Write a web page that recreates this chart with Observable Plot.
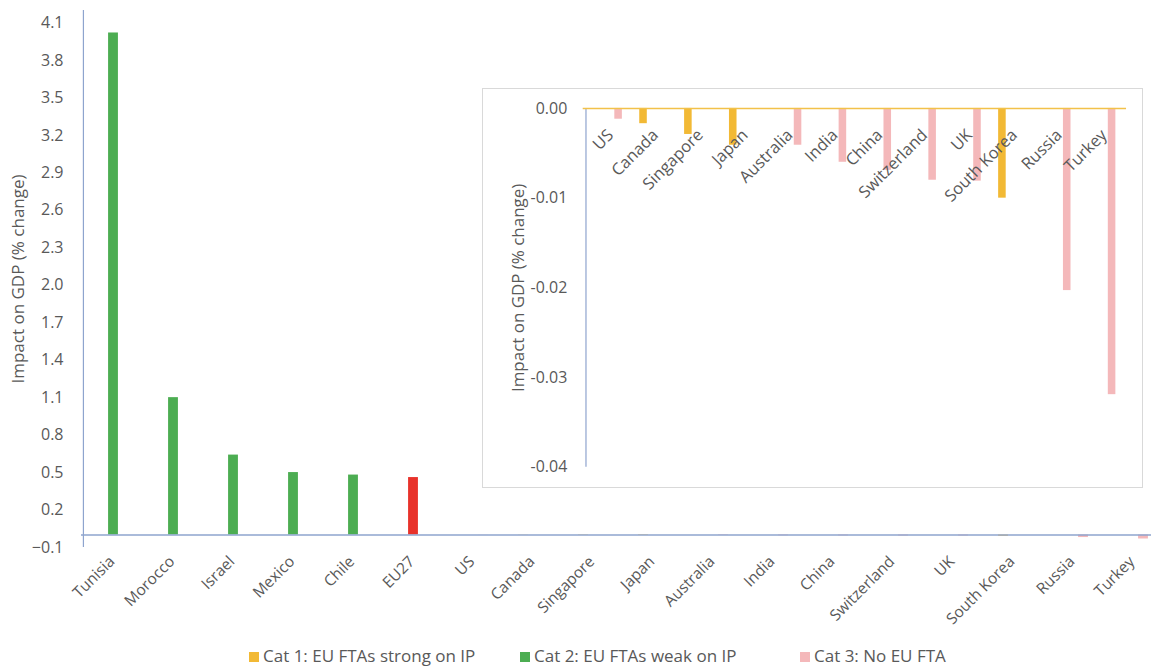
<!DOCTYPE html>
<html>
<head>
<meta charset="utf-8">
<script src="https://cdn.jsdelivr.net/npm/d3@7"></script>
<script src="https://cdn.jsdelivr.net/npm/@observablehq/plot@0.6"></script>
<style>
  html, body { margin: 0; padding: 0; background: #fff; }
  #wrap { position: relative; width: 1151px; height: 668px; font-family: "Open Sans", sans-serif; color: #595959; overflow: hidden; }
  #main { position: absolute; left: 0; top: 0; }
  #inset { position: absolute; left: 482px; top: 88px; width: 661px; height: 400px; box-sizing: border-box; border: 1px solid #D9D9D9; background: #fff; }
  #inset svg { position: absolute; left: -1px; top: -1px; }
  #legend { position: absolute; top: 644px; left: 0; width: 1151px; height: 24px; }
  .li { position: absolute; top: 0; font-size: 17px; line-height: 24px; white-space: nowrap; }
  .sw { display: inline-block; width: 10px; height: 10px; margin-right: 4px; vertical-align: 0px; }
</style>
</head>
<body>
<div id="wrap">
  <div id="main"></div>
  <div id="inset"></div>
  <div id="legend"></div>
</div>
<script>
// ---- data ----
const countries = ["Tunisia","Morocco","Israel","Mexico","Chile","EU27","US","Canada","Singapore","Japan","Australia","India","China","Switzerland","UK","South Korea","Russia","Turkey"];
const groups = ["Cat 2","Cat 2","Cat 2","Cat 2","Cat 2","EU27","Cat 3","Cat 1","Cat 1","Cat 1","Cat 3","Cat 3","Cat 3","Cat 3","Cat 3","Cat 1","Cat 3","Cat 3"];
const gdpImpact = [4.02,1.10,0.64,0.50,0.48,0.46,-0.0012,-0.0017,-0.0029,-0.0041,-0.0041,-0.0060,-0.0069,-0.0080,-0.0081,-0.0100,-0.0203,-0.0319];

const mainTicks = [-0.1,0.2,0.5,0.8,1.1,1.4,1.7,2.0,2.3,2.6,2.9,3.2,3.5,3.8,4.1];
const insetTicks = [0,-0.01,-0.02,-0.03,-0.04];
const insetTickLabels = ["0.00","-0.01","-0.02","-0.03","-0.04"];

const legendLabels = ["Cat 1: EU FTAs strong on IP","Cat 2: EU FTAs weak on IP","Cat 3: No EU FTA"];
const legendKeys = ["Cat 1","Cat 2","Cat 3"];
const yTitle = "Impact on GDP (% change)";

const colors = {"Cat 1": "#F2B935", "Cat 2": "#4CAD52", "Cat 3": "#F4B8BA", "EU27": "#E8322A"};
const axisColor = "#8EA4CE";
const textColor = "#595959";

const rows = countries.map((c, i) => ({country: c, group: groups[i], value: gdpImpact[i]}));
const insetRows = rows.filter(d => d.group === "Cat 1" || d.group === "Cat 3");
const insetCountries = insetRows.map(d => d.country);

// ---- main chart ----
// the category axis runs a little past the right edge of the picture (as in the reference)
const W = 1151, H = 640, mL = 81, xEnd = 1164;
const bw = (xEnd - mL) / countries.length;
const barW = 10;
const off = 10;
const inset = (bw - barW) / 2;

function barsFor(data, grp, dx, ins) {
  return Plot.barY(data.filter(d => d.group === grp), {
    x: "country", y: "value", fill: colors[grp], insetLeft: ins, insetRight: ins, dx
  });
}

const main = Plot.plot({
  width: W, height: H,
  marginLeft: mL, marginRight: 0, marginTop: 10, marginBottom: 93,
  style: {fontFamily: "Open Sans, sans-serif", color: textColor, background: "transparent"},
  x: {type: "band", domain: countries, padding: 0, range: [mL, xEnd], axis: null},
  y: {domain: [-0.1, 4.2], axis: null},
  marks: [
    barsFor(rows, "Cat 2", 0, inset),
    barsFor(rows, "EU27", 0, inset),
    barsFor(rows, "Cat 1", -off, inset),
    barsFor(rows, "Cat 3", off, inset),
    Plot.ruleY([0], {stroke: axisColor, strokeWidth: 1.5}),
    Plot.ruleX([countries[0]], {y1: -0.1, y2: 4.2, dx: -bw / 2, stroke: axisColor, strokeWidth: 1.2}),
    Plot.axisY({ticks: mainTicks, tickSize: 0, tickPadding: 18, tickFormat: d3.format(".1f"), fontSize: 16, label: null, fill: textColor}),
    Plot.text([yTitle], {frameAnchor: "left", textAnchor: "middle", dx: -63, rotate: -90, fontSize: 17, fill: textColor}),
    Plot.text(countries, {x: d => d, frameAnchor: "bottom", dy: 15, dx: 2, rotate: -45, textAnchor: "end", fontSize: 15.5, fill: textColor})
  ]
});
document.getElementById("main").appendChild(main);

// ---- inset chart ----
const IW = 661, IH = 400, imL = 101, imR = 15;
const ibw = (IW - imL - imR) / insetCountries.length;
const ibarW = 8;
const ioff = 10;
const iins = (ibw - ibarW) / 2;

const insetPlot = Plot.plot({
  width: IW, height: IH,
  marginLeft: imL, marginRight: imR, marginTop: 20, marginBottom: 20,
  style: {fontFamily: "Open Sans, sans-serif", color: textColor, background: "transparent"},
  x: {type: "band", domain: insetCountries, padding: 0, axis: null},
  y: {domain: [-0.04, 0], axis: null},
  marks: [
    barsFor(insetRows, "Cat 1", -ioff, iins),
    barsFor(insetRows, "Cat 3", ioff, iins),
    Plot.ruleX([insetCountries[0]], {y1: -0.04, y2: 0, dx: -ibw / 2, stroke: axisColor, strokeWidth: 1.2}),
    Plot.ruleY([0], {stroke: "#F2C14A", strokeWidth: 1.5}),
    Plot.axisY({ticks: insetTicks, tickSize: 0, tickPadding: 16, tickFormat: (d) => insetTickLabels[insetTicks.indexOf(d)], fontSize: 16, label: null, fill: textColor}),
    Plot.text([yTitle], {frameAnchor: "left", textAnchor: "middle", dx: -65, rotate: -90, fontSize: 17, fill: textColor}),
    Plot.text(insetRows, {x: "country", y: () => 0, dy: 24, dx: 2, rotate: -45, textAnchor: "end", text: "country", fontSize: 16.5, fill: textColor})
  ]
});
document.getElementById("inset").appendChild(insetPlot);

// ---- legend ----
const legendX = [249, 520, 800];
const leg = document.getElementById("legend");
legendKeys.forEach((k, i) => {
  const item = document.createElement("div");
  item.className = "li";
  item.style.left = legendX[i] + "px";
  const sw = document.createElement("span");
  sw.className = "sw";
  sw.style.background = colors[k];
  item.appendChild(sw);
  item.appendChild(document.createTextNode(legendLabels[i]));
  leg.appendChild(item);
});
</script>
</body>
</html>
